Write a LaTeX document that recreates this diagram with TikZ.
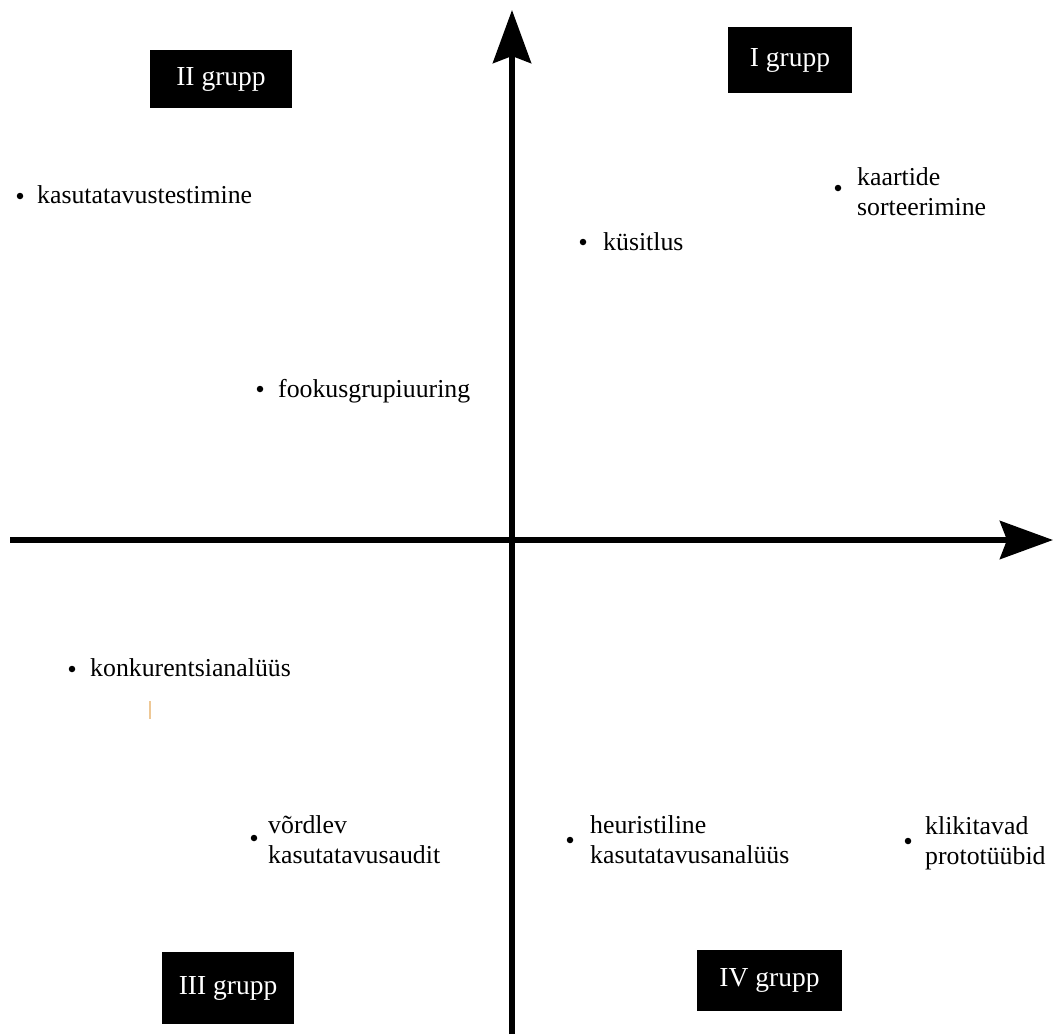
\documentclass[tikz,border=0pt]{standalone}
\usepackage{fontspec}
\setmainfont{Liberation Serif}
\usetikzlibrary{arrows.meta}
\newcommand{\twoline}[2]{\vtop{\baselineskip=30pt\hbox{#1}\hbox{#2}}}
\definecolor{markorange}{RGB}{238,200,150}
\begin{document}
\begin{tikzpicture}[x=1pt,y=-1pt,
  axis/.style={line width=6pt,-{Stealth[length=53pt,width=38pt,inset=7pt]}},
  grp/.style={fill=black,text=white,inner sep=0pt,font=\fontsize{27.5}{33}\selectfont},
  lbl/.style={anchor=base west,inner sep=0pt,font=\fontsize{25.8}{30}\selectfont},
  dot/.style={circle,fill=black,inner sep=0pt,minimum size=6.5pt}]
\useasboundingbox (0,0) rectangle (1054,1034);
% axes
\coordinate (vb) at (512,1034);
\coordinate (vt) at (512,10);
\coordinate (hl) at (10,540);
\coordinate (hr) at (1053,540);
\draw[axis] (vb) -- (vt);
\draw[axis] (hl) -- (hr);
% group labels
\node[grp,minimum width=124pt,minimum height=66pt] (g1) at (790,60) {I grupp};
\node[grp,minimum width=142pt,minimum height=58pt] (g2) at (221,79) {II grupp};
\node[grp,minimum width=132pt,minimum height=72pt] (g3) at (228,988) {III grupp};
\node[grp,minimum width=145pt,minimum height=61pt] (g4) at (769.5,980.5) {IV grupp};
% items
\node[dot] (d1) at (20,196) {};
\node[lbl] (t1) at (37,203) {kasutatavustestimine};
\node[dot] (d2) at (583,242) {};
\node[lbl] (t2) at (603,250) {küsitlus};
\node[dot] (d3) at (838,188) {};
\node[lbl] (t3) at (857,185) {\twoline{kaartide}{sorteerimine}};
\node[dot] (d4) at (260,389) {};
\node[lbl] (t4) at (278,397) {fookusgrupiuuring};
\node[dot] (d5) at (72,669) {};
\node[lbl] (t5) at (90,676) {konkurentsianalüüs};
\node[dot] (d6) at (254,838) {};
\node[lbl] (t6) at (268,833) {\twoline{võrdlev}{kasutatavusaudit}};
\node[dot] (d7) at (570,840) {};
\node[lbl] (t7) at (590,833) {\twoline{heuristiline}{kasutatavusanalüüs}};
\node[dot] (d8) at (908,841) {};
\node[lbl] (t8) at (925,834) {\twoline{klikitavad}{prototüübid}};
% small mark
\coordinate (m1) at (150,701);
\coordinate (m2) at (150,719);
\draw[markorange,line width=2pt] (m1) -- (m2);
\end{tikzpicture}
\end{document}
